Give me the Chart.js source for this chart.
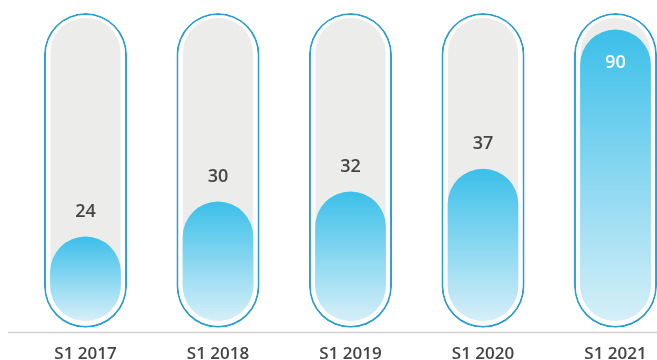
<!DOCTYPE html>
<html>
<head>
<meta charset="utf-8">
<script src="https://cdn.jsdelivr.net/npm/chart.js@4.4.1/dist/chart.umd.min.js"></script>
<style>
  html, body { margin: 0; padding: 0; background: #fff; overflow: hidden; }
  #wrap { width: 700px; height: 375px; }
</style>
</head>
<body>
<div id="wrap"><canvas id="halfYearChart"></canvas></div>
<script>
// Half-year figures
const periods = ['S1 2017', 'S1 2018', 'S1 2019', 'S1 2020', 'S1 2021'];
const values = [24, 30, 32, 37, 90];

// Log value axis and the tube ends, in data units
const axisMin = 13;
const axisMax = 100;
const fillBase = 14;    // bottom of grey tube + blue fill
const tubeTop = 97;     // top of grey tube
const frameBase = 13.4; // bottom of the outlined capsule

// one vertical gradient per blue fill, rebuilt once the scales are laid out
let gradients = [];
const fillGradients = {
  id: 'fillGradients',
  afterLayout(chart) {
    const y = chart.scales.y;
    const bottom = y.getPixelForValue(fillBase);
    gradients = values.map((v) => {
      const g = chart.ctx.createLinearGradient(0, y.getPixelForValue(v), 0, bottom);
      g.addColorStop(0, '#3bbfe9');
      g.addColorStop(1, '#d6eff8');
      return g;
    });
  }
};

// grey baseline under the tubes
const baseline = {
  id: 'baseline',
  beforeDatasetsDraw(chart) {
    const { ctx, chartArea } = chart;
    ctx.save();
    ctx.strokeStyle = '#d2d2d2';
    ctx.lineWidth = 1.5;
    ctx.beginPath();
    ctx.moveTo(8, chartArea.bottom);
    ctx.lineTo(chart.width, chartArea.bottom);
    ctx.stroke();
    ctx.restore();
  }
};

// value above each fill, or inside it when there is no room
const valueLabels = {
  id: 'valueLabels',
  afterDatasetsDraw(chart) {
    const { ctx, chartArea } = chart;
    const meta = chart.getDatasetMeta(0);
    ctx.save();
    ctx.font = '600 18px "Open Sans"';
    ctx.textAlign = 'center';
    ctx.textBaseline = 'middle';
    meta.data.forEach((bar, i) => {
      let y = bar.y - 25;
      let colour = '#454545';
      if (y - 12 < chartArea.top + 8) {
        y = bar.y + 33;
        colour = '#ffffff';
      }
      ctx.fillStyle = colour;
      ctx.fillText(values[i], bar.x, y);
    });
    ctx.restore();
  }
};

const ctx = document.getElementById('halfYearChart').getContext('2d');
new Chart(ctx, {
  type: 'bar',
  data: {
    labels: periods,
    datasets: [
      {
        data: values,
        base: fillBase,
        backgroundColor: (c) => gradients[c.dataIndex] || '#3bbfe9',
        barPercentage: 0.534,
      },
      {
        data: periods.map(() => tubeTop),
        base: fillBase,
        backgroundColor: '#ecedeb',
        barPercentage: 0.53,
      },
      {
        data: periods.map(() => axisMax),
        base: frameBase,
        backgroundColor: '#ffffff',
        borderColor: '#2b9fd4',
        borderWidth: 2,
        barPercentage: 0.627,
      }
    ]
  },
  options: {
    responsive: true, maintainAspectRatio: false,
    animation: false,
    layout: { padding: { left: 19.25, right: 18.25, top: 13, bottom: 0 } },
    datasets: {
      bar: {
        grouped: false,
        categoryPercentage: 1,
        borderRadius: 999,
        borderSkipped: false,
        clip: false,
      }
    },
    plugins: { legend: { display: false }, tooltip: { enabled: false } },
    scales: {
      x: {
        grid: { display: false, drawTicks: false },
        border: { display: false },
        ticks: {
          padding: 11,
          color: '#444444',
          font: { family: 'Open Sans', size: 17, weight: '600' }
        }
      },
      y: {
        type: 'logarithmic',
        display: false,
        min: axisMin,
        max: axisMax
      }
    }
  },
  plugins: [fillGradients, baseline, valueLabels]
});
</script>
</body>
</html>
